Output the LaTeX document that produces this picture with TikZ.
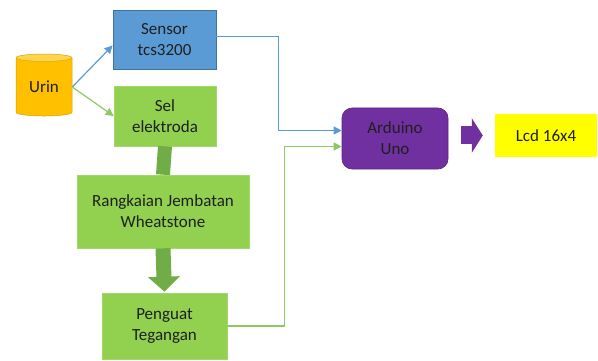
\documentclass[tikz,border=0pt]{standalone}
\usepackage{fontspec}
\setmainfont{Carlito}
\usetikzlibrary{shapes.geometric, arrows.meta, positioning, calc}

\definecolor{sensorblue}{HTML}{5B9BD5}
\definecolor{sensoredge}{HTML}{41719C}
\definecolor{selgreen}{HTML}{92D050}
\definecolor{shaftgreen}{HTML}{70AD47}
\definecolor{linegreen}{HTML}{8CC866}
\definecolor{unopurple}{HTML}{7030A0}
\definecolor{lcdyellow}{HTML}{FFFF00}
\definecolor{urinorange}{HTML}{FFC000}
\definecolor{urintop}{HTML}{FFD54F}
\definecolor{txt}{HTML}{1F1F1F}

\begin{document}
\begin{tikzpicture}[
    x=1pt, y=-1pt,
    every node/.style={font=\fontsize{17}{21}\selectfont, text=txt, align=center, inner sep=0pt},
    block/.style={rectangle, fill=selgreen, draw=selgreen!85!white, line width=0.6pt},
    thinline/.style={line width=1.2pt, -{Triangle[length=8pt,width=8pt]}},
    fatarrow/.style={line width=15pt, draw=shaftgreen, -{Triangle[length=15pt,width=31pt]}}
]

\useasboundingbox (0,0) rectangle (598,361);

% Urin
\node[cylinder, shape border rotate=90, aspect=0.25, minimum width=56pt, minimum height=62pt,
      cylinder uses custom fill, cylinder body fill=urinorange, cylinder end fill=urintop,
      draw=urinorange!85!black, line width=0.5pt] (urin) at (44,87) {Urin};

% Sensor and sel
\node[rectangle, fill=sensorblue, draw=sensoredge, line width=0.8pt,
      minimum width=103pt, minimum height=59pt] (sensor) at (164.5,39.5) {Sensor\\tcs3200};
\node[block, minimum width=102pt, minimum height=60pt] (sel) at (165,116) {Sel\\elektroda};

% Chain below
\node[block, minimum width=172pt, minimum height=73pt] (rangk) at (163,211.5) {Rangkaian Jembatan\\Wheatstone};
\node[block, minimum width=125pt, minimum height=66pt] (peng) at (164.5,326) {Penguat\\Tegangan};

% Arduino and LCD
\node[rectangle, rounded corners=10pt, fill=unopurple, draw=unopurple!80!black, line width=0.6pt,
      minimum width=106pt, minimum height=61pt] (ard) at (395,138.5) {Arduino\\Uno};
\node[rectangle, fill=lcdyellow, minimum width=102pt, minimum height=43pt] (lcd) at (546,135.5) {Lcd 16x4};

% Connections
\draw[thinline, draw=sensorblue] (urin.east) -- ([yshift=-6pt]sensor.west);
\draw[thinline, draw=linegreen] (urin.east) -- (sel.west);
\draw[thinline, draw=sensorblue] ([yshift=3pt]sensor.east) -- ++(62,0) |- ([yshift=8pt]ard.west);
\draw[thinline, draw=linegreen] (peng.east) -- ++(57,0) |- ([yshift=-8pt]ard.west);

\draw[line width=14pt, draw=shaftgreen] (sel.south) -- (rangk.north);
\draw[fatarrow, shorten >=1pt] (rangk.south) -- (peng.north);
\draw[line width=18pt, draw=unopurple, -{Triangle[length=11pt,width=34pt]},
      shorten <=13pt, shorten >=12pt] (ard.east |- lcd.west) -- (lcd.west);

\end{tikzpicture}
\end{document}
